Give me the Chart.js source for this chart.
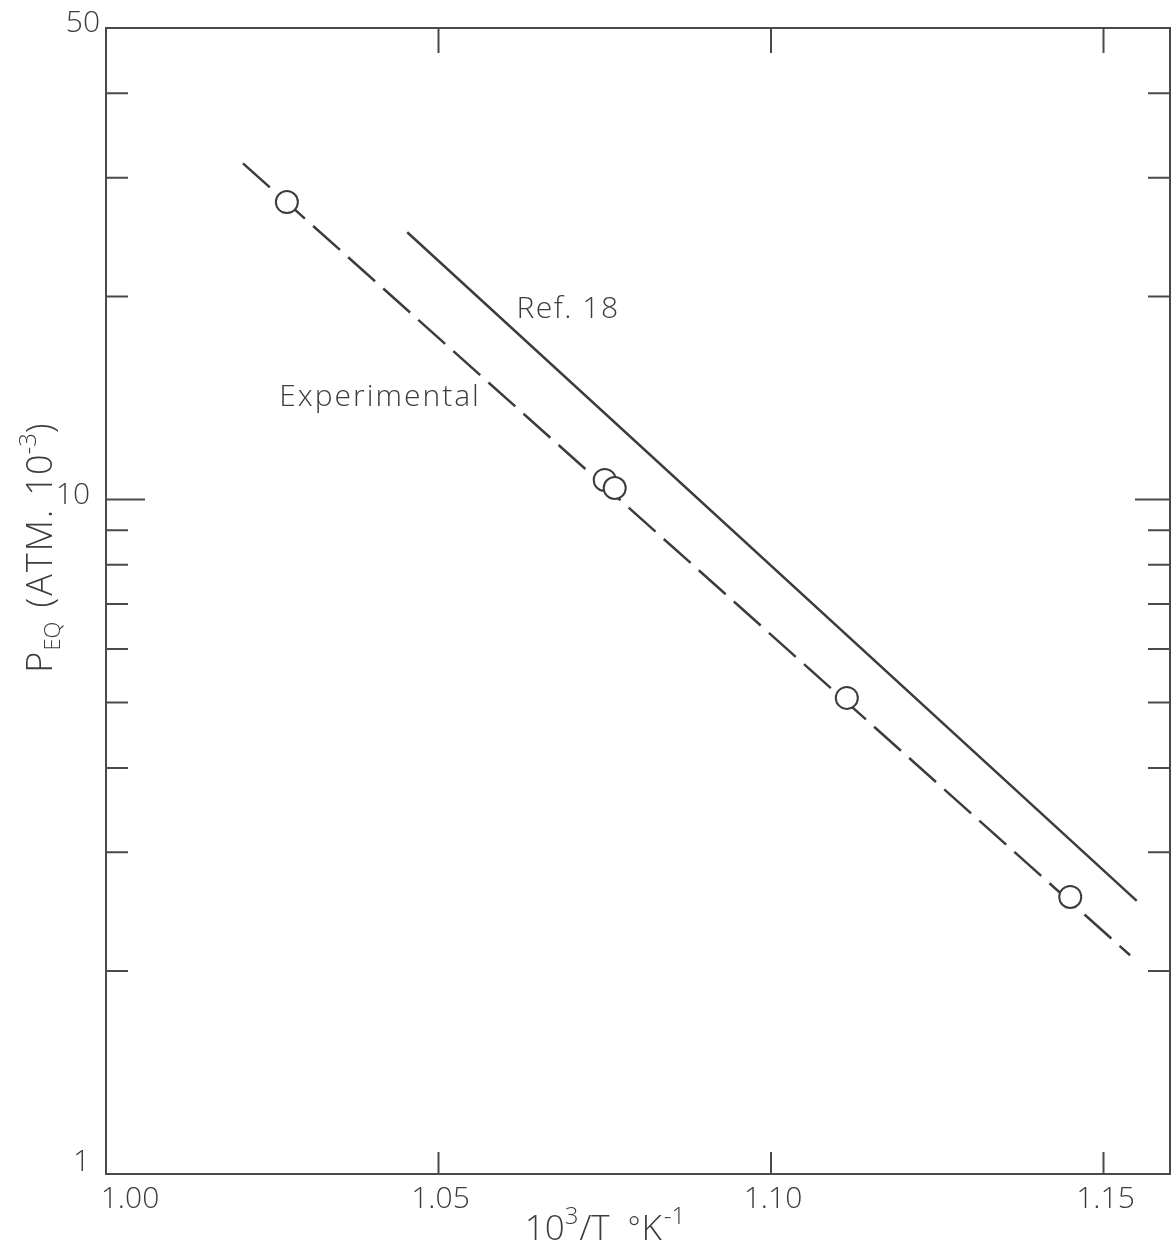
<!DOCTYPE html>
<html>
<head>
<meta charset="utf-8">
<script src="https://cdn.jsdelivr.net/npm/chart.js@4.4.1/dist/chart.umd.min.js"></script>
<style>
html,body{margin:0;padding:0;background:#fff;overflow:hidden;}
canvas{display:block;}
</style>
</head>
<body>
<canvas id="chart" width="1175" height="1251"></canvas>
<script>
// x ticks and y ticks
const xTicks = [1.00, 1.05, 1.10, 1.15];
const xTickLabels = ['1.00', '1.05', '1.10', '1.15'];
const yLabelled = [1, 10, 50];
const yMinor = [2, 3, 4, 5, 6, 7, 8, 9, 20, 30, 40];

// experimental points (open circles)
const expX = [1.0272, 1.0750, 1.0765, 1.1114, 1.1450];
const expY = [27.6, 10.69, 10.40, 5.08, 2.575];

// dashed fit through experimental points
const expFitX = [1.0206, 1.154];
const expFitY = [31.5, 2.11];

// Ref. 18 line
const refX = [1.0453, 1.155];
const refY = [24.9, 2.54];

const INK = '#3c3c3c';
const FONT = '"Open Sans", "DejaVu Sans", sans-serif';

function pts(xs, ys){
    return xs.map((x, i) => ({x: x, y: ys[i]}));
}

// draws a row of text pieces (for super/subscripts), centred on x
function drawRuns(ctx, parts, x, y){
    let total = 0;
    parts.forEach(p => {
        ctx.font = '300 ' + p.size + 'px ' + FONT;
        ctx.letterSpacing = (p.ls || 0) + 'px';
        p.w = ctx.measureText(p.t).width;
        total += p.w + (p.gap || 0);
    });
    let cx = x - total / 2;
    parts.forEach(p => {
        ctx.font = '300 ' + p.size + 'px ' + FONT;
        ctx.letterSpacing = (p.ls || 0) + 'px';
        ctx.fillText(p.t, cx, y + (p.dy || 0));
        cx += p.w + (p.gap || 0);
    });
    ctx.letterSpacing = '0px';
}

const framePlugin = {
    id: 'frame',
    afterDraw(chart){
        const ctx = chart.ctx;
        const a = chart.chartArea;
        const xs = chart.scales.x, ys = chart.scales.y;
        ctx.save();
        ctx.strokeStyle = '#4a4a4a';
        ctx.lineWidth = 2;
        ctx.strokeRect(a.left, a.top, a.right - a.left, a.bottom - a.top);

        ctx.beginPath();
        // x ticks, inward on top and bottom
        xTicks.forEach(v => {
            const px = xs.getPixelForValue(v);
            if (px <= a.left + 2) return;
            ctx.moveTo(px, a.bottom); ctx.lineTo(px, a.bottom - 22);
            ctx.moveTo(px, a.top); ctx.lineTo(px, a.top + 25);
        });
        // y ticks, inward on left and right
        yMinor.forEach(v => {
            const py = ys.getPixelForValue(v);
            ctx.moveTo(a.left, py); ctx.lineTo(a.left + 22, py);
            ctx.moveTo(a.right, py); ctx.lineTo(a.right - 22, py);
        });
        const p10 = ys.getPixelForValue(10);
        ctx.moveTo(a.left, p10); ctx.lineTo(a.left + 39, p10);
        ctx.moveTo(a.right, p10); ctx.lineTo(a.right - 35, p10);
        ctx.stroke();

        ctx.fillStyle = INK;
        ctx.textBaseline = 'middle';

        // x tick labels
        ctx.font = '300 30px ' + FONT;
        ctx.textAlign = 'center';
        xTicks.forEach((v, i) => {
            let px = xs.getPixelForValue(v);
            if (i === 0) px += 24;
            else px += 2;
            ctx.fillText(xTickLabels[i], px, a.bottom + 25);
        });

        // y tick labels
        ctx.textAlign = 'right';
        yLabelled.forEach(v => {
            const py = ys.getPixelForValue(v);
            const dy = v === 1 ? -12 : (v === 50 ? -5 : -4);
            const rx = v === 50 ? a.left - 6 : a.left - 16;
            ctx.fillText(String(v), rx, py + dy);
        });

        // annotations on the plot
        ctx.textAlign = 'left';
        ctx.textBaseline = 'alphabetic';
        drawRuns(ctx, [{t: 'Ref. 18', size: 30, ls: 1.5}], 568, 318);
        drawRuns(ctx, [{t: 'Experimental', size: 30, ls: 2}], 380, 406);

        // x axis title
        drawRuns(ctx, [
            {t: '10', size: 35, ls: 0},
            {t: '3', size: 24, dy: -16, gap: 1},
            {t: '/T', size: 35, gap: 18},
            {t: '\u00b0', size: 30, dy: -2, gap: 1},
            {t: 'K', size: 35, gap: 2},
            {t: '-1', size: 24, dy: -16}
        ], 605, 1240);

        // y axis title (rotated)
        ctx.translate(52, 548);
        ctx.rotate(-Math.PI / 2);
        drawRuns(ctx, [
            {t: 'P', size: 36, gap: 1},
            {t: 'EQ', size: 22, dy: 8, gap: 14},
            {t: '(ATM.', size: 36, ls: 2, gap: 12},
            {t: '10', size: 36},
            {t: '-3', size: 24, dy: -16},
            {t: ')', size: 36}
        ], 0, 0);
        ctx.restore();
    }
};

new Chart(document.getElementById('chart'), {
    type: 'scatter',
    data: {
        datasets: [
            {
                label: 'Experimental points',
                data: pts(expX, expY),
                pointRadius: 11,
                pointBorderWidth: 2,
                pointBackgroundColor: '#fff',
                pointBorderColor: INK,
                showLine: false,
                order: 0
            },
            {
                label: 'Experimental',
                data: pts(expFitX, expFitY),
                showLine: true,
                borderColor: INK,
                borderWidth: 2.5,
                borderDash: [36, 11],
                pointRadius: 0,
                order: 1
            },
            {
                label: 'Ref. 18',
                data: pts(refX, refY),
                showLine: true,
                borderColor: INK,
                borderWidth: 2.5,
                pointRadius: 0,
                order: 2
            }
        ]
    },
    options: {
        responsive: false,
        animation: false,
        devicePixelRatio: 1,
        layout: {autoPadding: false, padding: {left: 106, top: 28, right: 5, bottom: 77}},
        plugins: {legend: {display: false}, tooltip: {enabled: false}},
        scales: {
            x: {type: 'linear', min: 1.00, max: 1.16, display: false},
            y: {type: 'logarithmic', min: 1, max: 50, display: false}
        }
    },
    plugins: [framePlugin]
});
</script>
</body>
</html>
